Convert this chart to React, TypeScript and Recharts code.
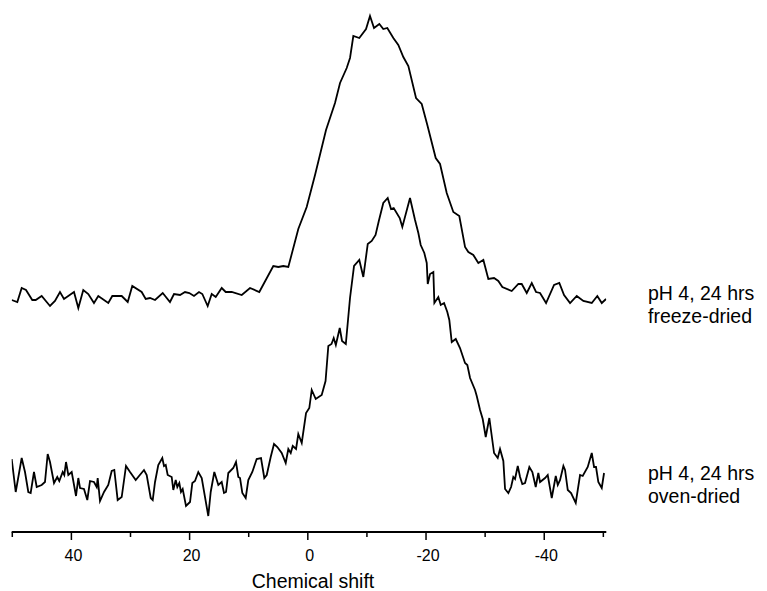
import { LineChart, Line, XAxis, YAxis, Customized } from "recharts"

// values: shift in ppm, intensity in arbitrary units (0 = axis)
const freezeShift = [
  50.1, 49.15, 48.41, 47.68, 46.62, 46.04, 45.03, 43.62, 42.78, 41.93, 41.25, 39.56, 38.83, 37.99, 37.14,
  36.18, 35.45, 33.76, 33.08, 31.49, 30.47, 29.7, 28.11, 27.43, 26.7, 25.85, 24.55, 23.32, 22.64, 21.62,
  20.78, 20.05, 19.26, 18.41, 17.85, 16.94, 16.26, 15.58, 14.57, 13.89, 12.88, 11.18, 9.78, 8.21, 5.84,
  4.99, 4.15, 3.3, 1.61, 0.19, -1.22, -3.08, -4.6, -5.45, -6.58, -7.14, -7.7, -8.71, -9.85, -10.52,
  -11.2, -12.1, -12.77, -13.45, -14.47, -15.31, -16.16, -17.01, -18.31, -19.27, -20.22, -21.64, -22.37,
  -23.5, -24.62, -25.63, -26.6, -27.16, -28.0, -28.85, -29.7, -30.54, -31.51, -32.23, -32.91, -34.5,
  -35.62, -36.19, -37.04, -37.89, -38.61, -39.29, -40.31, -41.66, -42.55, -43.35, -44.37, -45.5, -46.62,
  -48.04, -48.98, -49.73, -50.46,
]
const freezeIntensity = [
  232, 230, 244, 242, 232, 232, 236, 226, 231, 240, 233, 240, 224, 242, 238,
  229, 236, 229, 236, 236, 230, 246, 240, 233, 234, 232, 239, 230, 238, 237,
  240, 239, 236, 240, 238, 226, 238, 235, 244, 240, 240, 237, 244, 240, 266,
  265, 266, 265, 303, 325, 357, 402, 429, 449, 464, 474, 496, 494, 503, 516,
  504, 508, 503, 504, 494, 487, 475, 466, 434, 428, 407, 374, 368,
  339, 320, 316, 285, 280, 277, 269, 272, 253, 254, 251, 245, 241,
  248, 248, 239, 249, 240, 239, 229, 247, 249, 237, 229, 236, 231,
  229, 236, 229, 233,
]

const ovenShift = [
  50.1, 49.42, 48.41, 47.85, 47.29, 46.89, 46.33, 45.87, 45.03, 44.47, 44.01, 43.62, 42.94, 42.39, 42.05,
  41.47, 41.2, 40.91, 40.52, 39.95, 39.22, 38.83, 38.54, 37.87, 37.31, 36.85, 36.18, 35.72, 35.55, 35.16,
  34.48, 33.76, 33.18, 32.74, 32.17, 31.49, 30.76, 30.08, 29.12, 27.72, 27.26, 26.58, 26.24, 25.85, 25.3,
  24.62, 24.33, 24.04, 23.71, 23.03, 22.76, 22.35, 22.08, 21.74, 21.46, 21.17, 20.61, 19.93, 19.54, 19.09,
  18.53, 17.95, 16.84, 16.43, 15.82, 15.14, 14.57, 14.18, 13.84, 13.45, 12.61, 12.15, 11.76, 11.47, 11.08,
  10.51, 10.07, 9.39, 8.65, 7.92, 7.36, 6.95, 6.28, 5.72, 5.16, 4.42, 3.74, 3.3, 2.89, 2.55,
  1.99, 1.61, 1.03, 0.3, -0.25, -0.66, -1.34, -2.35, -3.0, -3.47, -4.01, -4.38, -4.74, -5.4, -5.79,
  -6.43, -7.14, -7.82, -8.71, -9.39, -10.14, -10.81, -11.46, -12.01, -12.77, -13.52, -14.08, -14.53, -15.55, -15.99,
  -17.29, -18.14, -18.7, -19.1, -19.71, -20.12, -20.29, -20.68, -21.24, -21.41, -22.08, -22.49, -23.05, -23.6, -23.94,
  -24.35, -25.03, -25.75, -26.6, -26.99, -27.45, -28.29, -28.58, -29.14, -29.59, -30.1, -30.71, -31.51, -32.13, -32.52,
  -33.08, -33.37, -33.93, -34.39, -34.77, -35.06, -35.52, -35.91, -36.29, -36.75, -37.48, -37.99, -38.56, -39.0, -39.29,
  -40.14, -40.59, -41.27, -41.95, -42.29, -42.68, -43.24, -43.52, -43.98, -44.54, -45.33, -46.06, -46.51, -47.36, -48.04,
  -48.43, -48.76, -49.15, -49.73, -50.12,
]
const ovenIntensity = [
  73, 40, 74, 60, 40, 39, 60, 45, 47, 50, 78, 70, 49, 55, 51,
  60, 57, 70, 57, 60, 36, 54, 44, 43, 32, 51, 50, 45, 54, 31,
  40, 47, 61, 62, 32, 35, 66, 60, 52, 62, 57, 34, 32, 50, 67,
  74, 66, 67, 57, 55, 42, 52, 45, 49, 40, 43, 26, 30, 49, 51,
  60, 54, 16, 40, 60, 47, 50, 39, 40, 59, 64, 70, 55, 54, 39,
  34, 52, 60, 73, 74, 54, 57, 75, 88, 85, 79, 69, 83, 79, 86,
  83, 98, 89, 119, 124, 142, 133, 137, 151, 186, 188, 194, 187, 204, 191,
  188, 234, 266, 272, 255, 288, 291, 297, 311, 329, 334, 323, 324, 314, 305,
  334, 312, 299, 287, 279, 269, 248, 258, 260, 229, 235, 227, 229, 220, 212,
  190, 193, 184, 169, 167, 154, 142, 136, 122, 113, 95, 114, 79, 74, 83,
  71, 43, 39, 45, 55, 53, 66, 55, 48, 49, 65, 60, 45, 59, 50,
  54, 57, 34, 56, 47, 52, 66, 62, 42, 39, 29, 57, 56, 65, 79,
  65, 65, 50, 44, 59,
]

const xTicks = [50, 40, 30, 20, 10, 0, -10, -20, -30, -40, -50]
const labelledTicks = [40, 20, 0, -20, -40]
const freezeLabel = ["pH 4, 24 hrs", "freeze-dried"]
const ovenLabel = ["pH 4, 24 hrs", "oven-dried"]
const xTitle = "Chemical shift"

const freezeData = freezeShift.map((shift, i) => ({ shift, freeze: freezeIntensity[i] }))
const ovenData = ovenShift.map((shift, i) => ({ shift, oven: ovenIntensity[i] }))

const font = "'Liberation Sans', Arial, sans-serif"

function ShiftTick({ x, y, payload }: any) {
  const major = labelledTicks.includes(payload.value)
  return (
    <g>
      <line x1={x} y1={y} x2={x} y2={y + (major ? 8 : 5)} stroke="#000" strokeWidth={1.5} />
      {major && (
        <text x={x + 2} y={y + 29} textAnchor="middle" fontSize={16} fontFamily={font} fill="#000">
          {payload.value}
        </text>
      )}
    </g>
  )
}

function SampleLabel({ lines, y }: { lines: string[]; y: number }) {
  return (
    <text x={648} y={y} fontSize={19.5} fontFamily={font} fill="#000">
      <tspan x={648}>{lines[0]}</tspan>
      <tspan x={648} dy={22.6}>{lines[1]}</tspan>
    </text>
  )
}

function Annotations() {
  return (
    <g>
      <SampleLabel lines={freezeLabel} y={300} />
      <SampleLabel lines={ovenLabel} y={480} />
      <text x={313} y={588} fontSize={19.5} fontFamily={font} fill="#000" textAnchor="middle">{xTitle}</text>
    </g>
  )
}

export default function App() {
  return (
    <div style={{ width: 767, height: 591, background: "#fff" }}>
      <style>{"body{margin:0}"}</style>
      <LineChart width={767} height={591} margin={{ top: 12, right: 160.7, left: 11.7, bottom: 0 }}>
        <XAxis
          type="number"
          dataKey="shift"
          domain={[-50.5, 50.1]}
          reversed
          allowDataOverflow
          ticks={xTicks}
          interval={0}
          tickSize={0}
          tickMargin={0}
          tickLine={false}
          tick={<ShiftTick />}
          height={59}
          axisLine={{ stroke: "#000", strokeWidth: 2 }}
        />
        <YAxis hide domain={[0, 520]} allowDataOverflow />
        <Line data={freezeData} dataKey="freeze" type="linear" stroke="#000" strokeWidth={1.8} dot={false} isAnimationActive={false} />
        <Line data={ovenData} dataKey="oven" type="linear" stroke="#000" strokeWidth={1.8} dot={false} isAnimationActive={false} />
        <Customized component={Annotations} />
      </LineChart>
    </div>
  )
}
